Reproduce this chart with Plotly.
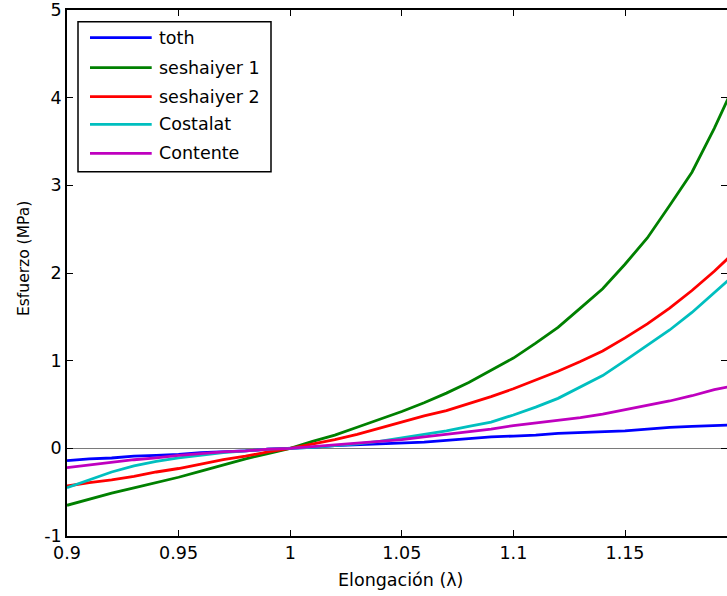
import plotly.graph_objects as go

lam = [0.90, 0.91, 0.92, 0.93, 0.94, 0.95, 0.96, 0.97, 0.98, 0.99, 1.00,
       1.01, 1.02, 1.03, 1.04, 1.05, 1.06, 1.07, 1.08, 1.09, 1.10,
       1.11, 1.12, 1.13, 1.14, 1.15, 1.16, 1.17, 1.18, 1.19, 1.20]

toth = [-0.14, -0.12, -0.11, -0.09, -0.08, -0.07, -0.05, -0.04, -0.03, -0.01, 0.00,
        0.01, 0.03, 0.04, 0.05, 0.06, 0.07, 0.09, 0.11, 0.13, 0.14,
        0.15, 0.17, 0.18, 0.19, 0.20, 0.22, 0.24, 0.25, 0.26, 0.27]

seshaiyer1 = [-0.65, -0.58, -0.51, -0.45, -0.39, -0.33, -0.26, -0.19, -0.12, -0.06, 0.00,
              0.08, 0.15, 0.24, 0.33, 0.42, 0.52, 0.63, 0.75, 0.89, 1.03,
              1.20, 1.38, 1.60, 1.82, 2.10, 2.40, 2.77, 3.15, 3.65, 4.20]

seshaiyer2 = [-0.43, -0.39, -0.36, -0.32, -0.27, -0.23, -0.18, -0.13, -0.09, -0.04, 0.00,
              0.05, 0.10, 0.16, 0.23, 0.30, 0.37, 0.43, 0.51, 0.59, 0.68,
              0.78, 0.88, 0.99, 1.11, 1.26, 1.42, 1.60, 1.80, 2.02, 2.26]

costalat = [-0.45, -0.36, -0.27, -0.20, -0.15, -0.11, -0.08, -0.05, -0.03, -0.01, 0.00,
            0.01, 0.03, 0.05, 0.08, 0.12, 0.16, 0.20, 0.25, 0.30, 0.38,
            0.47, 0.57, 0.70, 0.83, 1.00, 1.17, 1.35, 1.55, 1.78, 2.00]

contente = [-0.22, -0.19, -0.16, -0.13, -0.11, -0.08, -0.06, -0.04, -0.03, -0.01, 0.00,
            0.02, 0.04, 0.06, 0.08, 0.10, 0.13, 0.16, 0.19, 0.22, 0.26,
            0.29, 0.32, 0.35, 0.39, 0.44, 0.49, 0.54, 0.60, 0.67, 0.72]

names = ["toth", "seshaiyer 1", "seshaiyer 2", "Costalat", "Contente"]
series = [toth, seshaiyer1, seshaiyer2, costalat, contente]
colors = ["#0000FF", "#008000", "#FF0000", "#00BFBF", "#BF00BF"]

x_ticks = [0.9, 0.95, 1.0, 1.05, 1.1, 1.15]
x_ticktext = ["0.9", "0.95", "1", "1.05", "1.1", "1.15"]
y_ticks = [-1, 0, 1, 2, 3, 4, 5]
y_ticktext = ["-1", "0", "1", "2", "3", "4", "5"]
x_title = "Elongación (λ)"
y_title = "Esfuerzo (MPa)"

FONT = "DejaVu Sans, Verdana, sans-serif"
FS = 17.5
LW = 2.8

fig = go.Figure()
for name, ys, c in zip(names, series, colors):
    fig.add_trace(go.Scatter(x=lam, y=ys, mode="lines", name=name,
                             line=dict(color=c, width=LW), showlegend=False))

W, H = 727, 596
ml, mr, mt, mb = 67, 0, 10, 60
PW = W - ml - mr
PH = H - mt - mb

fig.update_layout(
    width=W, height=H,
    margin=dict(l=ml, r=mr, t=mt, b=mb),
    paper_bgcolor="white", plot_bgcolor="white",
    font=dict(family=FONT, size=FS, color="black"),
    xaxis=dict(range=[0.9, 0.9 + PW / 2232], tickvals=x_ticks, ticktext=x_ticktext,
               automargin=False,
               showgrid=False, zeroline=False, showline=True, linecolor="black",
               linewidth=1.5, mirror="ticks", ticks="inside", ticklen=6,
               tickcolor="black", tickfont=dict(size=FS)),
    yaxis=dict(range=[-1, 5], tickvals=y_ticks, ticktext=y_ticktext,
               automargin=False,
               showgrid=False, zeroline=True, zerolinecolor="#7a7a7a", zerolinewidth=1.3,
               showline=True, linecolor="black",
               linewidth=1.5, mirror="ticks", ticks="inside", ticklen=6,
               tickcolor="black", tickfont=dict(size=FS)),
)

def fx(px):  # figure px -> paper x
    return (px - ml) / PW

def fy(py):  # figure px -> paper y
    return 1 - (py - mt) / PH

# axis titles
fig.add_annotation(xref="paper", yref="paper", x=fx(400), y=fy(580), text=x_title,
                   showarrow=False, xanchor="center", yanchor="middle",
                   font=dict(family=FONT, size=FS))
fig.add_annotation(xref="paper", yref="paper", x=fx(24), y=fy(259), text=y_title,
                   showarrow=False, xanchor="center", yanchor="middle", textangle=-90,
                   font=dict(family=FONT, size=15.5))

# Custom legend box (MATLAB style)
fig.add_shape(type="rect", xref="paper", yref="paper",
              x0=fx(78), x1=fx(271), y0=fy(171.7), y1=fy(21.7),
              line=dict(color="black", width=1.5), fillcolor="white", layer="above")
row_y = [37.7, 67.7, 96.7, 124.3, 153.3]
for name, c, ry in zip(names, colors, row_y):
    fig.add_shape(type="line", xref="paper", yref="paper",
                  x0=fx(90), x1=fx(151.7), y0=fy(ry), y1=fy(ry),
                  line=dict(color=c, width=LW), layer="above")
    fig.add_annotation(xref="paper", yref="paper", x=fx(156.5), y=fy(ry),
                       text=name, showarrow=False, xanchor="left", yanchor="middle",
                       font=dict(family=FONT, size=FS, color="black"))

fig.write_html(
    "out.html",
    config={"displayModeBar": False},
    post_script="document.body.style.margin='0';document.body.style.overflow='hidden';",
)
